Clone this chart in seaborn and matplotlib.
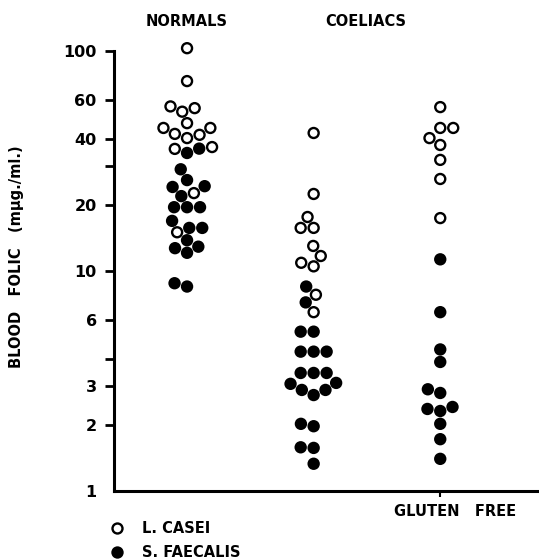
import matplotlib
matplotlib.use("Agg")
import matplotlib.pyplot as plt
import matplotlib.transforms as mtransforms
from matplotlib.lines import Line2D
from matplotlib.ticker import FixedLocator, NullLocator, FixedFormatter
import numpy as np
import pandas as pd
import seaborn as sns

# Blood folic acid levels (mμg./ml.) by assay organism
groups = ["NORMALS", "COELIACS", "GLUTEN FREE"]
series = ["L. CASEI", "S. FAECALIS"]

normals_casei = [103, 73, 56, 55, 53, 47, 44.7, 44.7, 42, 41.6, 40.2, 36.6, 35.9, 22.6, 15]
normals_faecalis = [36, 34.4, 29, 25.9, 24.3, 24.1, 21.9, 19.5, 19.5, 19.5, 16.9,
                    15.7, 15.7, 13.8, 12.9, 12.7, 12.1, 8.8, 8.5]
coeliac_casei = [42.4, 22.4, 17.6, 15.7, 15.7, 13, 11.7, 10.9, 10.5, 7.8, 6.5]
coeliac_faecalis = [8.5, 7.2, 5.3, 5.3, 4.3, 4.3, 4.3, 3.44, 3.44, 3.44, 3.1, 3.07,
                    2.88, 2.88, 2.73, 2.02, 1.97, 1.58, 1.57, 1.33]
gluten_free_casei = [55.6, 44.7, 44.7, 40.2, 37.4, 32, 26.2, 17.4]
gluten_free_faecalis = [11.3, 6.5, 4.4, 3.86, 2.9, 2.79, 2.41, 2.36, 2.31, 2.02, 1.72, 1.40]

y_ticks = [1, 2, 3, 4, 6, 10, 20, 30, 40, 60, 100]
y_tick_labels = ["1", "2", "3", "", "6", "10", "20", "", "40", "60", "100"]

records = []
for grp, casei, faec in [
    ("NORMALS", normals_casei, normals_faecalis),
    ("COELIACS", coeliac_casei, coeliac_faecalis),
    ("GLUTEN FREE", gluten_free_casei, gluten_free_faecalis),
]:
    records += [(grp, "L. CASEI", v) for v in casei]
    records += [(grp, "S. FAECALIS", v) for v in faec]
df = pd.DataFrame(records, columns=["group", "series", "value"])

sns.set_style("ticks")
plt.rcParams["font.family"] = ["DejaVu Sans"]
plt.rcParams["font.weight"] = "bold"
for key in ["text.color", "axes.labelcolor", "xtick.color", "ytick.color", "axes.edgecolor"]:
    plt.rcParams[key] = "black"

fig = plt.figure(figsize=(5.39, 5.60), dpi=100)
ax = fig.add_axes([114 / 539, 1 - 491 / 560, 1 - 114 / 539, 457.4 / 560])
ax.set_yscale("log")

palette = {"L. CASEI": "white", "S. FAECALIS": "black"}
sns.swarmplot(data=df, x="group", y="value", hue="series", order=groups,
              hue_order=series, palette=palette, size=7.2, linewidth=1.7,
              edgecolor="black", legend=False, ax=ax)

ax.set_ylim(1, 120)
ax.set_xlim(-0.577, 2.78)

# y axis: log ticks with labels at selected values
ax.yaxis.set_major_locator(FixedLocator(y_ticks))
ax.yaxis.set_major_formatter(FixedFormatter(y_tick_labels))
ax.yaxis.set_minor_locator(NullLocator())
ax.tick_params(axis="y", length=6.5, width=2.0, pad=6, labelsize=11.5, direction="out",
               colors="black")
for lab in ax.get_yticklabels():
    lab.set_fontweight("bold")
ax.yaxis.get_major_ticks()[0].tick1line.set_visible(False)

# x axis: only the gluten-free column is marked
ax.set_xticks([2])
ax.set_xticklabels(["GLUTEN   FREE"], fontsize=10.5, fontweight="bold")
ax.tick_params(axis="x", length=4, width=1.5, pad=5, direction="out", colors="black")
shift = mtransforms.ScaledTranslation(15 / 100, 0, fig.dpi_scale_trans)
for lab in ax.get_xticklabels():
    lab.set_transform(lab.get_transform() + shift)

ax.set_xlabel("")
ax.set_ylabel("")
sns.despine(ax=ax)
ax.spines["left"].set_bounds(1, 100)
ax.spines["left"].set_linewidth(2.2)
ax.spines["bottom"].set_linewidth(2.2)
ax.spines["left"].set_color("black")
ax.spines["bottom"].set_color("black")

# group headings
head = mtransforms.blended_transform_factory(ax.transData, fig.transFigure)
ax.text(0, 1 - 22 / 560, "NORMALS", transform=head, ha="center", va="center",
        fontsize=10.5, fontweight="bold", color="black")
ax.text(1.415, 1 - 22 / 560, "COELIACS", transform=head, ha="center", va="center",
        fontsize=10.5, fontweight="bold", color="black")

fig.text(0.031, 1 - 257 / 560, "BLOOD   FOLIC   (mμg./ml.)", rotation=90,
         ha="center", va="center", fontsize=10.5, fontweight="bold", color="black")

# legend for the two assay organisms
handles = [
    Line2D([], [], linestyle="none", marker="o", markersize=7.2, markeredgewidth=1.7,
           markerfacecolor=palette[s], markeredgecolor="black")
    for s in series
]
leg = fig.legend(handles, series, loc="upper left",
                 bbox_to_anchor=(110 / 539, 1 - 521 / 560),
                 frameon=False, handlelength=1.0, handletextpad=1.2, labelspacing=0.6,
                 prop={"size": 10.5, "weight": "bold"}, borderpad=0, borderaxespad=0)
for t in leg.get_texts():
    t.set_color("black")

fig.savefig("out.png", dpi=100)
